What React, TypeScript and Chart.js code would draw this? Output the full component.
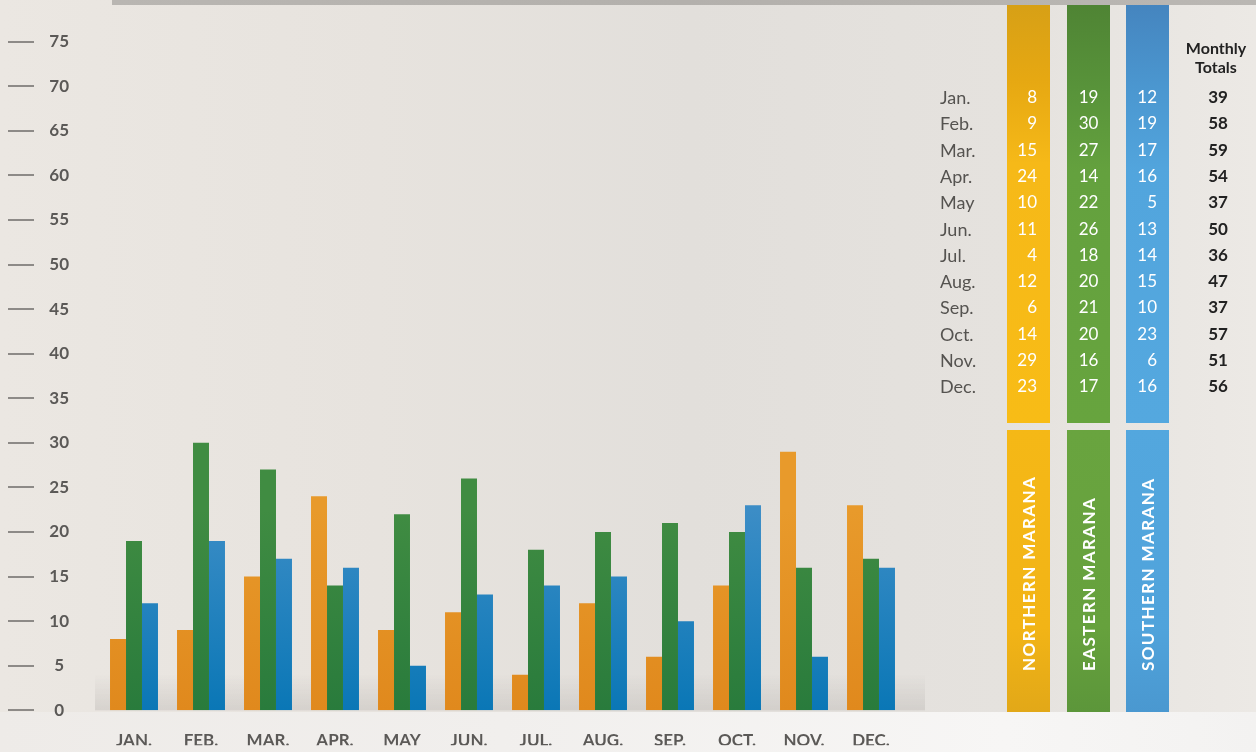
import React, { useEffect, useRef } from "react";
import { Chart, registerables } from "chart.js";

Chart.register(...registerables);

// Bar chart values
const axisMonths = ["JAN.", "FEB.", "MAR.", "APR.", "MAY", "JUN.", "JUL.", "AUG.", "SEP.", "OCT.", "NOV.", "DEC."];
const northern = [8, 9, 15, 24, 9, 11, 4, 12, 6, 14, 29, 23];
const eastern = [19, 30, 27, 14, 22, 26, 18, 20, 21, 20, 16, 17];
const southern = [12, 19, 17, 16, 5, 13, 14, 15, 10, 23, 6, 16];
const seriesNames = ["NORTHERN MARANA", "EASTERN MARANA", "SOUTHERN MARANA"];
const yMin = 0;
const yMax = 75;
const yStep = 5;

// Table values (as printed in the table)
const tableMonths = ["Jan.", "Feb.", "Mar.", "Apr.", "May", "Jun.", "Jul.", "Aug.", "Sep.", "Oct.", "Nov.", "Dec."];
const tableNorthern = [8, 9, 15, 24, 10, 11, 4, 12, 6, 14, 29, 23];
const tableEastern = [19, 30, 27, 14, 22, 26, 18, 20, 21, 20, 16, 17];
const tableSouthern = [12, 19, 17, 16, 5, 13, 14, 15, 10, 23, 6, 16];
const monthlyTotals = [39, 58, 59, 54, 37, 50, 36, 47, 37, 57, 51, 56];

const FONT = "Lato, 'DejaVu Sans', sans-serif";

function barGradient(top: string, bottom: string) {
  return (c: any) => {
    const chart = c.chart;
    const a = chart.chartArea;
    if (!a) return top;
    const g = chart.ctx.createLinearGradient(0, a.top, 0, a.bottom);
    g.addColorStop(0, top);
    g.addColorStop(0.7, top);
    g.addColorStop(1, bottom);
    return g;
  };
}

const tickDashes = {
  id: "tickDashes",
  afterDraw(chart: any) {
    const y = chart.scales.y;
    const ctx = chart.ctx;
    ctx.save();
    ctx.strokeStyle = "#8d8a87";
    ctx.lineWidth = 2;
    y.ticks.forEach((t: any) => {
      const py = Math.round(y.getPixelForValue(t.value));
      ctx.beginPath();
      ctx.moveTo(8, py);
      ctx.lineTo(34, py);
      ctx.stroke();
    });
    ctx.restore();
  },
};

const baseShade = {
  id: "baseShade",
  beforeDatasetsDraw(chart: any) {
    const a = chart.chartArea;
    const ctx = chart.ctx;
    ctx.save();
    const g = ctx.createLinearGradient(0, a.bottom - 36, 0, a.bottom);
    g.addColorStop(0, "rgba(190,186,182,0)");
    g.addColorStop(1, "rgba(190,186,182,0.45)");
    ctx.fillStyle = g;
    ctx.fillRect(95, a.bottom - 36, 830, 36);
    ctx.restore();
  },
};

const colTop = [
  "linear-gradient(to bottom, #d7a016 0%, #e6a812 18%, #f6b918 38%, #f8bc16 100%)",
  "linear-gradient(to bottom, #4f8434 0%, #58933a 20%, #64a13e 40%, #67a43e 100%)",
  "linear-gradient(to bottom, #4585bf 0%, #4b97d0 20%, #52a5dd 40%, #54a8df 100%)",
];
const colBottom = [
  "linear-gradient(to bottom, #f5b816 0%, #f2b416 70%, #e2a818 100%)",
  "linear-gradient(to bottom, #69a43f 0%, #66a13d 70%, #5c963a 100%)",
  "linear-gradient(to bottom, #53a7de 0%, #50a3db 70%, #4a98d0 100%)",
];
const colLeft = [1007, 1067, 1126];
const colWidth = 43;
const rowY0 = 97;
const rowStep = 26.3;

export default function App() {
  const ref = useRef<HTMLCanvasElement | null>(null);

  useEffect(() => {
    document.body.style.margin = "0";
    const canvas = ref.current;
    if (!canvas) return;
    const chart = new Chart(canvas, {
      type: "bar",
      data: {
        labels: axisMonths,
        datasets: [
          { label: seriesNames[0], data: northern, backgroundColor: barGradient("#e89a2b", "#e0891d") as any },
          { label: seriesNames[1], data: eastern, backgroundColor: barGradient("#408c42", "#297b3c") as any },
          { label: seriesNames[2], data: southern, backgroundColor: barGradient("#3c8dc6", "#0a77b6") as any },
        ],
      },
      options: {
        responsive: false,
        animation: false,
        maintainAspectRatio: false,
        events: [],
        layout: { padding: { top: 33, right: 351.5, left: 0, bottom: 0 } },
        datasets: { bar: { categoryPercentage: 0.716, barPercentage: 1.0, borderWidth: 0 } } as any,
        plugins: { legend: { display: false }, tooltip: { enabled: false }, title: { display: false } },
        scales: {
          x: {
            grid: { display: false, drawTicks: false },
            border: { display: false },
            ticks: {
              color: "#5b5957",
              font: { family: FONT, size: 17, weight: "bold" },
              padding: 20,
              maxRotation: 0,
              autoSkip: false,
            },
            afterFit: (s: any) => {
              s.height = 35;
            },
          },
          y: {
            min: yMin,
            max: yMax,
            grid: { display: false, drawTicks: false },
            border: { display: false },
            ticks: {
              stepSize: yStep,
              color: "#5b5957",
              font: { family: FONT, size: 17, weight: "bold" },
              crossAlign: "center",
              padding: 31.5,
            },
            afterFit: (s: any) => {
              s.width = 100.5;
            },
          },
        },
      },
      plugins: [baseShade, tickDashes],
    });
    return () => chart.destroy();
  }, []);

  const tableSeries = [tableNorthern, tableEastern, tableSouthern];

  return (
    <div
      style={{
        position: "fixed",
        left: 0,
        top: 0,
        width: 1256,
        height: 752,
        overflow: "hidden",
        background:
          "linear-gradient(to right, #ebe7e2 0%, #e7e3de 30%, #e2dfdb 55%, #e5e2de 80%, #ece9e5 100%)",
        fontFamily: FONT,
      }}
    >
      <div
        style={{
          position: "absolute",
          left: 0,
          top: 712,
          width: 1256,
          height: 40,
          background: "linear-gradient(to right, #eeebe8 0%, #f1efed 40%, #f7f6f5 80%, #f3f2f1 100%)",
        }}
      />
      <div
        style={{
          position: "absolute",
          left: 112,
          top: 0,
          width: 1144,
          height: 5,
          background: "linear-gradient(to right, #b9b6b2, #b3b0ac 50%, #bab7b3)",
        }}
      />
      <canvas ref={ref} width={1256} height={752} style={{ position: "absolute", left: 0, top: 0 }} />

      {colLeft.map((x, i) => (
        <React.Fragment key={"c" + i}>
          <div style={{ position: "absolute", left: x, top: 5, width: colWidth, height: 418, background: colTop[i] }} />
          <div style={{ position: "absolute", left: x, top: 430, width: colWidth, height: 282, background: colBottom[i] }} />
          <div
            style={{
              position: "absolute",
              left: x + colWidth / 2,
              top: 671,
              transformOrigin: "0 0",
              transform: "rotate(-90deg) translateY(-50%)",
              whiteSpace: "nowrap",
              color: "#ffffff",
              fontSize: 17,
              fontWeight: 700,
              letterSpacing: 1.4,
              lineHeight: "20px",
            }}
          >
            {seriesNames[i]}
          </div>
        </React.Fragment>
      ))}

      <div
        style={{
          position: "absolute",
          left: 1176,
          top: 38,
          width: 80,
          textAlign: "center",
          color: "#222",
          fontWeight: 700,
          fontSize: 16,
          lineHeight: "19px",
        }}
      >
        Monthly
        <br />
        Totals
      </div>

      {tableMonths.map((m, r) => {
        const cy = rowY0 + r * rowStep;
        const cell = (content: any, style: any, k: string) => (
          <div
            key={k}
            style={{
              position: "absolute",
              top: cy - 11,
              height: 22,
              lineHeight: "22px",
              fontSize: 17,
              whiteSpace: "nowrap",
              ...style,
            }}
          >
            {content}
          </div>
        );
        return (
          <React.Fragment key={"r" + r}>
            {cell(m, { left: 940, color: "#555350", fontSize: 18 }, "m")}
            {cell(tableSeries[0][r], { left: 1000, width: 37, textAlign: "right", color: "#fff" }, "a")}
            {cell(tableSeries[1][r], { left: 1067, width: 43, textAlign: "center", color: "#fff" }, "b")}
            {cell(tableSeries[2][r], { left: 1120, width: 37, textAlign: "right", color: "#fff" }, "c")}
            {cell(monthlyTotals[r], { left: 1188, width: 60, textAlign: "center", color: "#222", fontWeight: 700 }, "t")}
          </React.Fragment>
        );
      })}
    </div>
  );
}
